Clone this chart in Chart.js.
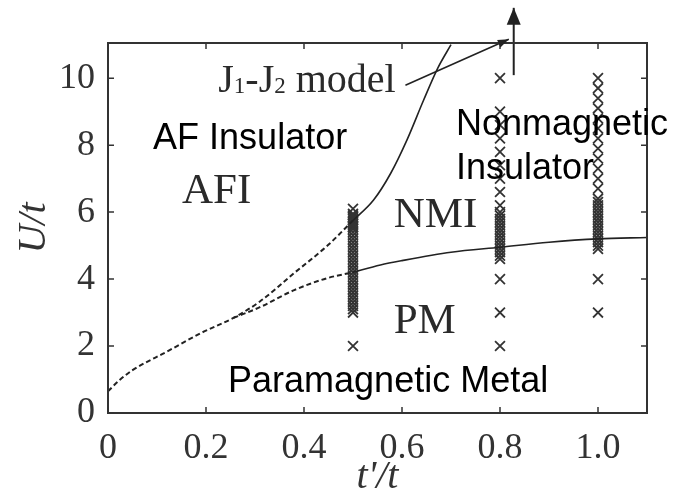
<!DOCTYPE html>
<html>
<head>
<meta charset="utf-8">
<script src="https://cdn.jsdelivr.net/npm/chart.js@4/dist/chart.umd.min.js"></script>
<style>
  html, body { margin: 0; padding: 0; background: #fff; }
  #wrap { width: 676px; height: 495px; }
</style>
</head>
<body>
<div id="wrap"><canvas id="phaseChart"></canvas></div>
<script>
// axes
const xTicks = [0, 0.2, 0.4, 0.6, 0.8, 1.0];
const xTickLabels = ['0', '0.2', '0.4', '0.6', '0.8', '1.0'];
const yTicks = [0, 2, 4, 6, 8, 10];
const yTickLabels = ['0', '2', '4', '6', '8', '10'];

// simulated (t'/t, U/t) points, one column per t'/t
const tColumns = [0.5, 0.8, 1.0];
const u05 = [2.0, 3.0, 3.1, 3.2, 3.3, 3.4, 3.5, 3.6, 3.7, 3.8, 3.9, 4.0, 4.1, 4.2, 4.3, 4.4,
  4.5, 4.6, 4.7, 4.8, 4.9, 5.0, 5.1, 5.2, 5.3, 5.4, 5.5, 5.55, 5.6, 5.65, 5.7, 5.75, 5.8,
  5.85, 5.9, 5.95, 6.1];
const u08 = [2.0, 3.0, 4.0, 4.6, 4.7, 4.8, 4.9, 5.0, 5.1, 5.2, 5.3, 5.4, 5.5, 5.6, 5.7, 5.8,
  5.9, 6.0, 6.2, 6.6, 7.0, 7.4, 7.8, 8.2, 8.6, 9.0, 10.0];
const u10 = [3.0, 4.0, 4.9, 5.0, 5.1, 5.2, 5.3, 5.4, 5.5, 5.6, 5.7, 5.8, 5.9, 6.0, 6.1, 6.2,
  6.3, 6.4, 6.7, 7.0, 7.3, 7.6, 7.9, 8.2, 8.5, 8.8, 9.1, 9.4, 9.7, 10.0];
const columnValues = [u05, u08, u10];

// phase boundaries
const upperDashT = [0, 0.025, 0.05, 0.12, 0.19, 0.256, 0.31, 0.38, 0.448, 0.5];
const upperDashU = [0.65, 1.0, 1.28, 1.83, 2.39, 2.84, 3.33, 4.18, 5.0, 5.75];
const lowerDashT = [0.256, 0.31, 0.38, 0.448, 0.5];
const lowerDashU = [2.84, 3.16, 3.67, 4.03, 4.2];
const upperSolidT = [0.5, 0.542, 0.577, 0.61, 0.644, 0.673, 0.7];
const upperSolidU = [5.75, 6.36, 7.16, 8.15, 9.34, 10.3, 11.0];
const lowerSolidT = [0.5, 0.556, 0.6, 0.7, 0.8, 0.9, 1.0, 1.1];
const lowerSolidU = [4.2, 4.42, 4.55, 4.8, 4.95, 5.1, 5.2, 5.24];

// arrows
const pointerT = [0.607, 0.818];
const pointerU = [9.79, 11.16];
const upArrowT = [0.828, 0.828];
const upArrowU = [10.09, 12.1];

const toPoints = (ts, us) => ts.map((t, i) => ({ x: t, y: us[i] }));

const sansFont = '36px "Liberation Sans", Arial, sans-serif';
const serifFont = '43px "Liberation Serif", "Times New Roman", serif';
const notes = [
  { text: 'AF Insulator', t: 0.092, u: 7.88, font: sansFont, color: '#000' },
  { text: 'Nonmagnetic', t: 0.71, u: 8.3, font: sansFont, color: '#000' },
  { text: 'Insulator', t: 0.71, u: 6.98, font: sansFont, color: '#000' },
  { text: 'Paramagnetic Metal', t: 0.245, u: 0.63, font: sansFont, color: '#000' },
  { text: 'AFI', t: 0.151, u: 6.27, font: serifFont, color: '#2a2a2a' },
  { text: 'NMI', t: 0.583, u: 5.55, font: serifFont, color: '#2a2a2a' },
  { text: 'PM', t: 0.583, u: 2.39, font: serifFont, color: '#2a2a2a' },
];
const modelLabel = [
  { text: 'J', sub: false }, { text: '1', sub: true }, { text: '-', sub: false },
  { text: 'J', sub: false }, { text: '2', sub: true }, { text: ' model', sub: false },
];

function arrowHead(ctx, x0, y0, x1, y1, len, half) {
  const a = Math.atan2(y1 - y0, x1 - x0);
  ctx.beginPath();
  ctx.moveTo(x1, y1);
  ctx.lineTo(x1 - len * Math.cos(a) + half * Math.sin(a), y1 - len * Math.sin(a) - half * Math.cos(a));
  ctx.lineTo(x1 - len * Math.cos(a) - half * Math.sin(a), y1 - len * Math.sin(a) + half * Math.cos(a));
  ctx.closePath();
  ctx.fill();
}

const decorPlugin = {
  id: 'decor',
  afterDraw(chart) {
    const { ctx, chartArea: a, scales: { x, y } } = chart;
    ctx.save();
    // frame and inward ticks on all four sides
    ctx.strokeStyle = '#333';
    ctx.lineWidth = 2;
    ctx.strokeRect(a.left, a.top, a.right - a.left, a.bottom - a.top);
    ctx.lineWidth = 1.5;
    ctx.beginPath();
    xTicks.forEach(v => {
      const px = x.getPixelForValue(v);
      ctx.moveTo(px, a.bottom); ctx.lineTo(px, a.bottom - 6);
      ctx.moveTo(px, a.top); ctx.lineTo(px, a.top + 6);
    });
    yTicks.forEach(v => {
      const py = y.getPixelForValue(v);
      ctx.moveTo(a.left, py); ctx.lineTo(a.left + 6, py);
      ctx.moveTo(a.right, py); ctx.lineTo(a.right - 6, py);
    });
    ctx.stroke();

    // arrow heads
    ctx.fillStyle = '#222';
    arrowHead(ctx, x.getPixelForValue(pointerT[0]), y.getPixelForValue(pointerU[0]),
      x.getPixelForValue(pointerT[1]), y.getPixelForValue(pointerU[1]), 11, 4);
    arrowHead(ctx, x.getPixelForValue(upArrowT[0]), y.getPixelForValue(upArrowU[0]),
      x.getPixelForValue(upArrowT[1]), y.getPixelForValue(upArrowU[1]), 17, 7);

    // region labels
    ctx.textBaseline = 'alphabetic';
    ctx.textAlign = 'left';
    notes.forEach(n => {
      ctx.font = n.font;
      ctx.fillStyle = n.color;
      ctx.fillText(n.text, x.getPixelForValue(n.t), y.getPixelForValue(n.u));
    });

    // J1-J2 model
    let px = x.getPixelForValue(0.225);
    const py = y.getPixelForValue(9.58);
    ctx.fillStyle = '#2a2a2a';
    modelLabel.forEach(p => {
      ctx.font = p.sub ? '23px "Liberation Serif", serif' : '40px "Liberation Serif", serif';
      ctx.fillText(p.text, px, py + (p.sub ? 1 : 0));
      px += ctx.measureText(p.text).width;
    });
    ctx.restore();
  }
};

const crossSets = tColumns.map((t, i) => ({
  type: 'scatter',
  data: columnValues[i].map(u => ({ x: t, y: u })),
  pointStyle: 'crossRot',
  pointRadius: 7,
  borderColor: '#333',
  borderWidth: 1.8,
}));

const lineStyle = (points, dashed, extra) => Object.assign({
  type: 'line',
  data: points,
  borderColor: '#222',
  borderWidth: dashed ? 2 : 1.6,
  borderDash: dashed ? [5, 3] : [],
  pointRadius: 0,
  cubicInterpolationMode: 'monotone',
  fill: false,
}, extra || {});

const serifTick = { family: '"Liberation Serif", "Times New Roman", serif', size: 36 };

new Chart(document.getElementById('phaseChart'), {
  type: 'scatter',
  data: {
    datasets: [
      lineStyle(toPoints(upperDashT, upperDashU), true),
      lineStyle(toPoints(lowerDashT, lowerDashU), true),
      lineStyle(toPoints(upperSolidT, upperSolidU), false),
      lineStyle(toPoints(lowerSolidT, lowerSolidU), false),
      lineStyle(toPoints(pointerT, pointerU), false, { clip: false, borderWidth: 1.6 }),
      lineStyle(toPoints(upArrowT, upArrowU), false, { clip: false, borderWidth: 2 }),
      ...crossSets,
    ],
  },
  options: {
    responsive: true,
    maintainAspectRatio: false,
    animation: false,
    layout: { padding: { top: 43, right: 29, left: 0, bottom: 0 } },
    plugins: { legend: { display: false }, tooltip: { enabled: false } },
    scales: {
      x: {
        type: 'linear',
        min: 0,
        max: 1.1,
        afterBuildTicks: s => { s.ticks = xTicks.map(v => ({ value: v })); },
        afterFit: s => { s.height = 82; },
        grid: { display: false },
        border: { display: false },
        ticks: {
          autoSkip: false,
          maxRotation: 0,
          padding: 6,
          color: '#333',
          font: serifTick,
          callback: (v, i) => xTickLabels[i],
        },
        title: {
          display: true,
          text: "t'/t",
          color: '#333',
          font: { family: '"Liberation Serif", serif', style: 'italic', size: 40, lineHeight: 0.9 },
          padding: { top: 0, bottom: 0 },
        },
      },
      y: {
        type: 'linear',
        min: 0,
        max: 11.05,
        afterBuildTicks: s => { s.ticks = yTicks.map(v => ({ value: v })); },
        afterFit: s => { s.width = 108; },
        grid: { display: false },
        border: { display: false },
        ticks: {
          autoSkip: false,
          padding: 5,
          color: '#333',
          font: serifTick,
          callback: (v, i) => yTickLabels[i],
        },
        title: {
          display: true,
          text: 'U/t',
          color: '#333',
          font: { family: '"Liberation Serif", serif', style: 'italic', size: 40, lineHeight: 1 },
          padding: { top: 14, bottom: 0 },
        },
      },
    },
  },
  plugins: [decorPlugin],
});
</script>
</body>
</html>
